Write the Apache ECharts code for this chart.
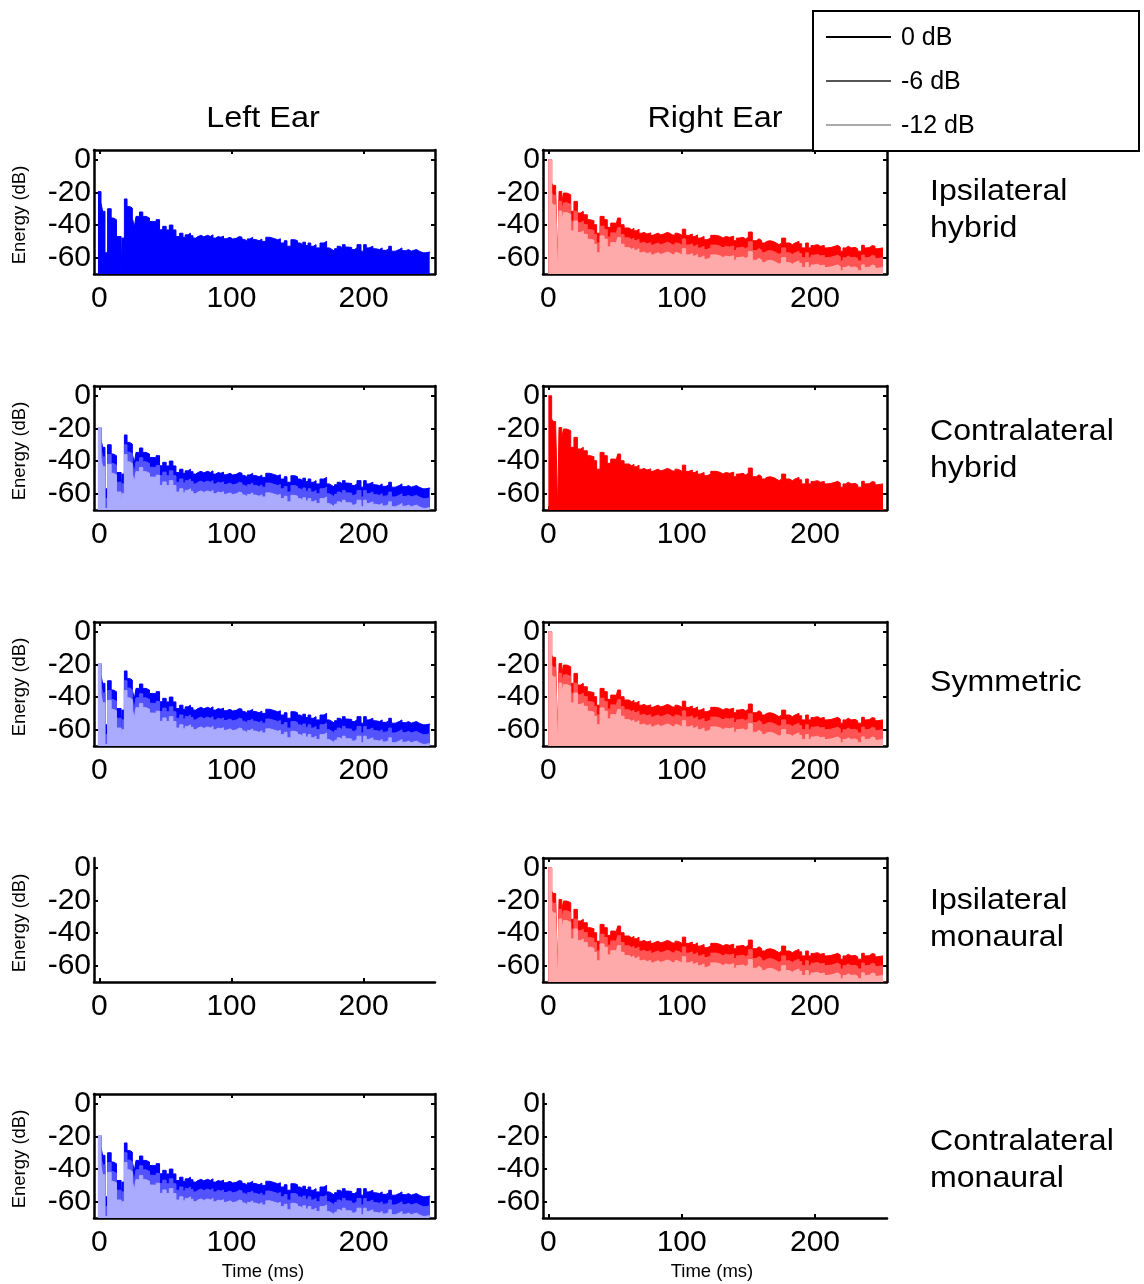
<!DOCTYPE html>
<html><head><meta charset="utf-8">
<script src="https://cdn.jsdelivr.net/npm/echarts@6/dist/echarts.min.js"></script>
<style>html,body{margin:0;padding:0;background:#fff}#c{width:1144px;height:1284px}</style>
</head><body><div id="c"></div>
<script>
// ---- Left ear (blue) energy time curves, time in ms, energy in dB ----
const timeL = [-1,1.3,2.5,4.3,6.3,9,10.6,13,16.5,17.2,19,21,23,25,26.5,27.8,30.4,32.9,35.4,38,40.5,43,45.6,48,50.6,53,55.7,58,60.8,63.3,65,67,69,70.9,73,74.7,77,79,82,84,86,88,90,92,94,96,97.5,99,101,104,106,108,110,112,114,116,118,121,123,126,129,132,135,137,140,142,145,148,150,152,154,156,158,160,162,164,167,170,172,174,176,178,180,182,184,186,188,191,193,195,198,200,202,204,207,209,212,214,217,219,221,224,227,229,232,234,236,238,240,242,245,247,250];
const L0 = [-19.5,-26.5,-31.6,-57,-30,-35.7,-36.7,-47,-69,-48,-24,-28.6,-29.6,-35.7,-41,-34.7,-32,-34.7,-35.7,-37.8,-38,-36.7,-42.9,-40.8,-43,-40,-43,-47,-45,-47.5,-46,-45,-46.5,-48,-47,-46.3,-47.2,-46.3,-47,-46,-48,-47,-47.5,-46.8,-48.4,-47.6,-47.5,-48.6,-48,-47,-47.5,-48.8,-50,-48.5,-47.5,-48.8,-49.6,-48.6,-50,-47.5,-48.2,-49,-48.4,-51,-49.6,-53,-49,-49.6,-51,-52,-50.5,-52.5,-51,-53,-52,-54,-51,-50,-54,-55,-56,-54.5,-53,-54,-52,-53.5,-53.7,-55,-54,-52,-56,-52,-54,-53,-54.5,-55,-54,-55.5,-54.5,-53,-56,-55,-54,-55.7,-55,-56,-55.5,-55,-56,-57,-57,-56.5,-57];
const L6 = [-19.5,-32,-37.5,-63,-36,-41.5,-42.5,-53,-70,-54,-30,-34.5,-35.5,-41.5,-47,-40.5,-38,-40.5,-41.5,-43.8,-44,-42.7,-48.9,-46.8,-49,-46,-49,-53,-51,-53.5,-52,-51,-52.5,-54,-53,-52.3,-53.2,-52.3,-53,-52,-54,-53,-53.5,-52.8,-54.4,-53.6,-53.5,-54.6,-54,-53,-53.5,-54.8,-56,-54.5,-53.5,-54.8,-55.6,-54.6,-56,-53.5,-54.2,-55,-54.4,-57,-55.6,-59,-55,-55.6,-57,-58,-56.5,-58.5,-57,-59,-58,-60,-57,-56,-60,-61,-62,-60.5,-59,-60,-58,-59.5,-59.7,-61,-60,-58,-62,-58,-60,-59,-60.5,-61,-60,-61.5,-60.5,-59,-62,-61,-60,-61.7,-61,-62,-61.5,-61,-62,-63,-63,-62.5,-63];
const L12 = [-19.5,-38,-43.5,-69,-42,-47.5,-48.5,-59,-70,-60,-36,-40.5,-41.5,-47.5,-53,-46.5,-44,-46.5,-47.5,-49.8,-50,-48.7,-54.9,-52.8,-55,-52,-55,-59,-57,-59.5,-58,-57,-58.5,-60,-59,-58.3,-59.2,-58.3,-59,-58,-60,-59,-59.5,-58.8,-60.4,-59.6,-59.5,-60.6,-60,-59,-59.5,-60.8,-62,-60.5,-59.5,-60.8,-61.6,-60.6,-62,-59.5,-60.2,-61,-60.4,-63,-61.6,-65,-61,-61.6,-63,-64,-62.5,-64.5,-63,-65,-64,-66,-63,-62,-66,-67,-68,-66.5,-65,-66,-64,-65.5,-65.7,-67,-66,-64,-68,-64,-66,-65,-66.5,-67,-66,-67.5,-66.5,-65,-68,-67,-66,-67.7,-67,-68,-67.5,-67,-68,-69,-69,-68.5,-69];

// ---- Right ear (red) energy time curves ----
const timeR = [0,2.5,3.7,5.5,7,8,10,11.3,14,16.8,19.2,21.8,24.2,26.2,29.2,31.2,34.2,36.2,38.8,41.8,44.2,46.8,50.5,52,54.2,56.8,60.5,62.5,64.2,66,68,70,71.8,74,76.8,78.5,80.5,82.5,84.2,86.5,89.2,91,93,95,96.8,98.5,100.5,103,105.5,108,110,111.8,114,116.8,119,121.8,126,129,131,133,136,139,141,143,146,148,150,153,156,158,160,162,164,166,168.5,171,173,175,178,181,183,185,188,190,193,195,197,199,202,204,207,209,212,215,217,219,221,223,225,227,230,232,235,237,239,241,243,245,247,251];
const R0 = [0,-14.3,-15.7,-18.4,-70,-19.4,-26.5,-20.4,-21.4,-31.6,-25.5,-32.6,-31.6,-33.7,-36.7,-37.3,-39.8,-45,-34.7,-36.7,-41.4,-38.8,-40.8,-35.7,-39.8,-41.8,-42.9,-42,-43.5,-42.5,-45,-44.5,-45.5,-44.8,-46.3,-45.5,-45,-46,-45.5,-44.5,-45,-46,-46.3,-45,-45.5,-46.5,-42.5,-46.3,-45.5,-47,-46,-48,-47,-49,-48,-46.3,-47,-48,-47,-47.5,-46.8,-49.6,-48,-47.5,-48.5,-47.5,-44.3,-49.6,-48.4,-49.5,-51,-50,-49.6,-50,-51,-52,-51,-48,-51,-52,-51,-50,-51.5,-54,-51,-54,-52.5,-52,-53,-52.5,-54,-53.7,-53,-52.4,-53.5,-56,-54,-53,-54,-53.7,-54.5,-56,-52.4,-54,-53.7,-52.5,-53,-54.5,-54,-54];
const R6 = [0,-20.3,-21.7,-24.4,-70,-25.4,-32.5,-26.4,-27.4,-37.6,-31.5,-38.6,-37.6,-39.7,-42.7,-43.3,-45.8,-51,-40.7,-42.7,-47.4,-44.8,-46.8,-41.7,-45.8,-47.8,-48.9,-48,-49.5,-48.5,-51,-50.5,-51.5,-50.8,-52.3,-51.5,-51,-52,-51.5,-50.5,-51,-52,-52.3,-51,-51.5,-52.5,-48.5,-52.3,-51.5,-53,-52,-54,-53,-55,-54,-52.3,-53,-54,-53,-53.5,-52.8,-55.6,-54,-53.5,-54.5,-53.5,-50.3,-55.6,-54.4,-55.5,-57,-56,-55.6,-56,-57,-58,-57,-54,-57,-58,-57,-56,-57.5,-60,-57,-60,-58.5,-58,-59,-58.5,-60,-59.7,-59,-58.4,-59.5,-62,-60,-59,-60,-59.7,-60.5,-62,-58.4,-60,-59.7,-58.5,-59,-60.5,-60,-60];
const R12 = [0,-26.3,-27.7,-30.4,-70,-31.4,-38.5,-32.4,-33.4,-43.6,-37.5,-44.6,-43.6,-45.7,-48.7,-49.3,-51.8,-57,-46.7,-48.7,-53.4,-50.8,-52.8,-47.7,-51.8,-53.8,-54.9,-54,-55.5,-54.5,-57,-56.5,-57.5,-56.8,-58.3,-57.5,-57,-58,-57.5,-56.5,-57,-58,-58.3,-57,-57.5,-58.5,-54.5,-58.3,-57.5,-59,-58,-60,-59,-61,-60,-58.3,-59,-60,-59,-59.5,-58.8,-61.6,-60,-59.5,-60.5,-59.5,-56.3,-61.6,-60.4,-61.5,-63,-62,-61.6,-62,-63,-64,-63,-60,-63,-64,-63,-62,-63.5,-66,-63,-66,-64.5,-64,-65,-64.5,-66,-65.7,-65,-64.4,-65.5,-68,-66,-65,-66,-65.7,-66.5,-68,-64.4,-66,-65.7,-64.5,-65,-66.5,-66,-66];

// ---- Axes / text ----
const xTickValues = [0, 100, 200];
const yTickValues = [0, -20, -40, -60];
const columnTitles = ['Left Ear', 'Right Ear'];
const rowLabels = ['Ipsilateral\nhybrid', 'Contralateral\nhybrid', 'Symmetric', 'Ipsilateral\nmonaural', 'Contralateral\nmonaural'];
const legendLabels = ['0 dB', '-6 dB', '-12 dB'];
// levels drawn in each panel [left ear, right ear]
const panelLevels = [
  [['0'], ['0', '6', '12']],
  [['0', '6', '12'], ['0']],
  [['0', '6', '12'], ['0', '6', '12']],
  [[], ['0', '6', '12']],
  [['0', '6', '12'], []]
];

const FONT = "'Liberation Sans', Arial, sans-serif";
const colLeft = [94, 543], colWidth = [341, 344];
const rowTop0 = 150, rowStep = 236, panelH = 124;
const rowLabelY = [210, 450, 683, 919, 1160];
const colors = {
  L: {'0': '#0000ff', '6': '#5454ff', '12': '#aaaaff'},
  R: {'0': '#ff0000', '6': '#ff5454', '12': '#ffaaaa'}
};
const dataSets = {
  L: {t: timeL, '0': L0, '6': L6, '12': L12},
  R: {t: timeR, '0': R0, '6': R6, '12': R12}
};

const grids = [], xAxes = [], yAxes = [], series = [];
const lineSty = {color: '#000', width: 2.5};
const tickSty = {color: '#000', width: 2};
for (let r = 0; r < 5; r++) {
  for (let c = 0; c < 2; c++) {
    const g = r * 2 + c;
    const levels = panelLevels[r][c];
    const boxed = levels.length > 0;
    grids.push({left: colLeft[c], top: rowTop0 + rowStep * r, width: colWidth[c], height: panelH, containLabel: false});
    const xBase = {type: 'value', gridIndex: g, min: -4, max: 254, splitLine: {show: false}};
    const yBase = {type: 'value', gridIndex: g, min: -70, max: 6, splitLine: {show: false}};
    xAxes.push(Object.assign({}, xBase, {
      position: 'bottom',
      axisLine: {show: true, onZero: false, lineStyle: lineSty},
      axisTick: {show: true, inside: true, length: 4, customValues: xTickValues, lineStyle: tickSty},
      axisLabel: {show: true, customValues: xTickValues, fontSize: 30, fontFamily: FONT, color: '#000', margin: 10}
    }));
    xAxes.push(Object.assign({}, xBase, {
      position: 'top', show: boxed,
      axisLine: {show: true, onZero: false, lineStyle: lineSty},
      axisTick: {show: true, inside: true, length: 4, customValues: xTickValues, lineStyle: tickSty},
      axisLabel: {show: false}
    }));
    yAxes.push(Object.assign({}, yBase, {
      position: 'left',
      axisLine: {show: true, onZero: false, lineStyle: lineSty},
      axisTick: {show: true, inside: true, length: 4, customValues: yTickValues, lineStyle: tickSty},
      axisLabel: {show: true, customValues: yTickValues, fontSize: 30, fontFamily: FONT, color: '#000', margin: 3}
    }));
    yAxes.push(Object.assign({}, yBase, {
      position: 'right', show: boxed,
      axisLine: {show: true, onZero: false, lineStyle: lineSty},
      axisTick: {show: true, inside: true, length: 4, customValues: yTickValues, lineStyle: tickSty},
      axisLabel: {show: false}
    }));
    const side = c === 0 ? 'L' : 'R';
    const ds = dataSets[side];
    levels.forEach((lv, k) => {
      const col = colors[side][lv];
      series.push({
        type: 'line', xAxisIndex: 2 * g, yAxisIndex: 2 * g,
        data: ds.t.map((t, i) => [t, ds[lv][i]]),
        step: 'end', symbol: 'none', silent: true, z: 2 + k,
        lineStyle: {color: col, width: 1},
        areaStyle: {color: col, opacity: 1, origin: 'start'}
      });
    });
  }
}

const graphics = [];
columnTitles.forEach((t, c) => {
  graphics.push({type: 'text', x: c === 0 ? 263 : 715, y: 119, scaleX: 1.08,
    style: {text: t, fontSize: 30, fontFamily: FONT, fill: '#000', textAlign: 'center', textVerticalAlign: 'middle'}});
});
rowLabels.forEach((t, r) => {
  graphics.push({type: 'text', x: 930, y: rowLabelY[r], scaleX: 1.07,
    style: {text: t, fontSize: 30, lineHeight: 37, fontFamily: FONT, fill: '#000', textAlign: 'left', textVerticalAlign: 'middle'}});
  graphics.push({type: 'text', x: 20, y: rowTop0 + rowStep * r + 65, rotation: Math.PI / 2,
    style: {text: 'Energy (dB)', fontSize: 18.5, fontFamily: FONT, fill: '#000', textAlign: 'center', textVerticalAlign: 'middle'}});
});
[263, 712].forEach(x => {
  graphics.push({type: 'text', x: x, y: 1272,
    style: {text: 'Time (ms)', fontSize: 18.5, fontFamily: FONT, fill: '#000', textAlign: 'center', textVerticalAlign: 'middle'}});
});
// legend box
graphics.push({type: 'rect', z: 100, shape: {x: 813, y: 11, width: 326, height: 140},
  style: {fill: '#fff', stroke: '#000', lineWidth: 2}});
const legendColors = ['#000000', '#555555', '#aaaaaa'];
legendLabels.forEach((t, i) => {
  const y = 37 + i * 44;
  graphics.push({type: 'line', z: 101, shape: {x1: 826, y1: y, x2: 891, y2: y}, style: {stroke: legendColors[i], lineWidth: 2}});
  graphics.push({type: 'text', z: 101, x: 901, y: y + 1.5,
    style: {text: t, fontSize: 25, fontFamily: FONT, fill: '#000', textAlign: 'left', textVerticalAlign: 'middle'}});
});

const chart = echarts.init(document.getElementById('c'), null, {renderer: 'canvas'});
chart.setOption({
  animation: false,
  backgroundColor: '#fff',
  grid: grids, xAxis: xAxes, yAxis: yAxes, series: series,
  graphic: graphics
});
</script>
</body></html>
